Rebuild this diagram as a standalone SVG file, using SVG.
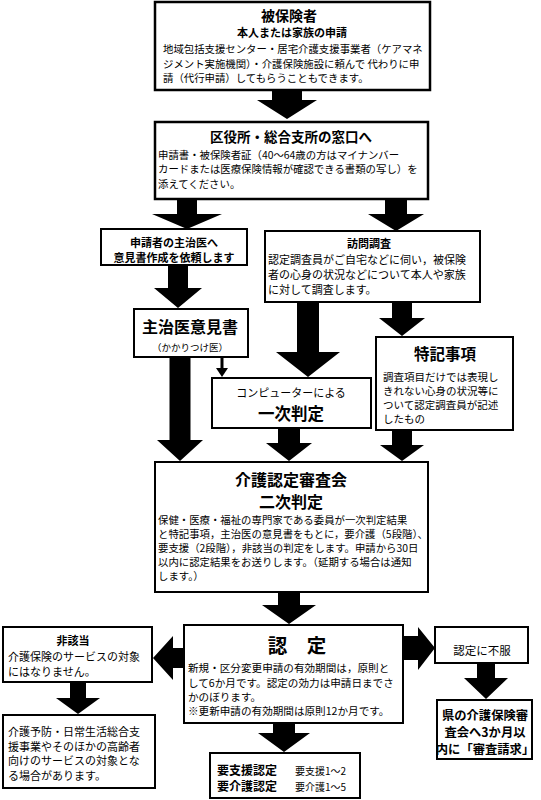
<svg xmlns="http://www.w3.org/2000/svg" width="541" height="800" viewBox="0 0 541 800">
<style>
.box{fill:#fff;stroke:#000;stroke-width:2}
.thick{stroke-width:2.5}
text{font-family:"Noto Sans CJK JP","Noto Sans",sans-serif;fill:#000}
.b{font-weight:bold}
.c{text-anchor:middle}
.body{font-size:10.4px}
.arr{fill:#000;stroke:none}
</style>
<rect width="541" height="800" fill="#fff"/>
<g id="connectors">
<polygon class="arr" points="272,90 302,90 302,100 317,100 287,119 257,100 272,100"/>
<polygon class="arr" points="177,199 197,199 197,214 222,214 187,229 152,214 177,214"/>
<polygon class="arr" points="385,199 407,199 407,214 424,214 396,231 368,214 385,214"/>
<polygon class="arr" points="168,265 188,265 188,288 202,288 178,308 154,288 168,288"/>
<polygon class="arr" points="297,302 319,302 319,352 340,352 308,377 276,352 297,352"/>
<polygon class="arr" points="392,302 412,302 412,318 425,318 402,336 379,318 392,318"/>
<line x1="222" y1="357" x2="222" y2="369" stroke="#000" stroke-width="3"/>
<polygon class="arr" points="216,368 228,368 222,377"/>
<polygon class="arr" points="169.5,357 190.5,357 190.5,440 203,440 180,461 157,440 169.5,440"/>
<polygon class="arr" points="278,428 300,428 300,443 312,443 289,461 266,443 278,443"/>
<polygon class="arr" points="392,430 412,430 412,445 424,445 402,461 380,445 392,445"/>
<polygon class="arr" points="278,592 300,592 300,605 316,605 289,624 262,605 278,605"/>
<polygon class="arr" points="184,648 173,648 173,636 153,658 173,680 173,668 184,668"/>
<polygon class="arr" points="70,682 86,682 86,698 100,698 78,714 56,698 70,698"/>
<polygon class="arr" points="403,636 418,636 418,627 435,648 418,670 418,660 403,660"/>
<polygon class="arr" points="477,663 495,663 495,678 508,678 486,699 464,678 477,678"/>
<polygon class="arr" points="273,723 295,723 295,733 310,733 284,752 258,733 273,733"/>
</g>
<g id="n1">
<rect class="box thick" x="155" y="2" width="275" height="88"/>
<text class="b c" x="289" y="21" font-size="14">被保険者</text>
<text class="b c" x="292" y="37" font-size="11">本人または家族の申請</text>
<text class="body" x="163" y="53">地域包括支援センター・居宅介護支援事業者（ケアマネ</text>
<text class="body" x="163" y="67.5">ジメント実施機関）・介護保険施設に頼んで 代わりに申</text>
<text class="body" x="163" y="82">請（代行申請）してもらうこともできます。</text>
</g>
<g id="n2">
<rect class="box thick" x="155" y="122" width="273" height="77"/>
<text class="b c" x="291" y="141.5" font-size="13.5">区役所・総合支所の窓口へ</text>
<text class="body" x="158" y="158.5">申請書・被保険者証（40～64歳の方はマイナンバー</text>
<text class="body" x="158" y="173">カードまたは医療保険情報が確認できる書類の写し）を</text>
<text class="body" x="158" y="187.5">添えてください。</text>
</g>
<g id="n3">
<rect class="box" x="101" y="229" width="146" height="36"/>
<text class="b c" x="174" y="246.5" font-size="11">申請者の主治医へ</text>
<text class="b c" x="174" y="261.5" font-size="11">意見書作成を依頼します</text>
</g>
<g id="n4">
<rect class="box" x="134" y="309" width="114" height="48"/>
<text class="b c" x="190" y="332.5" font-size="16">主治医意見書</text>
<text class="c" x="190" y="350.5" font-size="9.5">（かかりつけ医）</text>
</g>
<g id="n5">
<rect class="box" x="265" y="231" width="215" height="71"/>
<text class="b c" x="369" y="248" font-size="11">訪問調査</text>
<text x="268" y="264" font-size="11">認定調査員がご自宅などに伺い，被保険</text>
<text x="268" y="279" font-size="11">者の心身の状況などについて本人や家族</text>
<text x="268" y="294" font-size="11">に対して調査します。</text>
</g>
<g id="n6">
<rect class="box" x="376" y="337" width="137" height="93"/>
<text class="b c" x="445" y="360" font-size="15.5">特記事項</text>
<text x="383" y="381" font-size="10.5">調査項目だけでは表現し</text>
<text x="383" y="395" font-size="10.5">きれない心身の状況等に</text>
<text x="383" y="409" font-size="10.5">ついて認定調査員が記述</text>
<text x="383" y="423" font-size="10.5">したもの</text>
</g>
<g id="n7">
<rect class="box" x="212" y="378" width="159" height="50"/>
<text class="c" x="291" y="397" font-size="11">コンピューターによる</text>
<text class="b c" x="291" y="420" font-size="16.5">一次判定</text>
</g>
<g id="n8">
<rect class="box" x="155" y="462" width="273" height="130"/>
<text class="b c" x="291" y="486" font-size="16">介護認定審査会</text>
<text class="b c" x="291" y="508" font-size="16">二次判定</text>
<text class="body" x="158" y="524">保健・医療・福祉の専門家である委員が一次判定結果</text>
<text class="body" x="158" y="538">と特記事項，主治医の意見書をもとに，要介護（5段階）、</text>
<text class="body" x="158" y="552">要支援（2段階），非該当の判定をします。申請から30日</text>
<text class="body" x="158" y="566">以内に認定結果をお送りします。（延期する場合は通知</text>
<text class="body" x="158" y="580">します。）</text>
</g>
<g id="n9">
<rect class="box" x="184" y="625" width="219" height="98"/>
<text class="b c" x="297" y="653" font-size="19.5">認　定</text>
<text x="188" y="672" font-size="10.6">新規・区分変更申請の有効期間は，原則と</text>
<text x="188" y="686.5" font-size="10.6">して6か月です。認定の効力は申請日までさ</text>
<text x="188" y="700.5" font-size="10.6">かのぼります。</text>
<text x="188" y="715" font-size="10.6">※更新申請の有効期間は原則12か月です。</text>
</g>
<g id="n10">
<rect class="box" x="3" y="627" width="149" height="55"/>
<text class="b c" x="73" y="645" font-size="11">非該当</text>
<text x="8" y="661" font-size="11">介護保険のサービスの対象</text>
<text x="8" y="676" font-size="11">にはなりません。</text>
</g>
<g id="n11">
<rect class="box" x="3" y="715" width="152" height="73"/>
<text x="8" y="736" font-size="11">介護予防・日常生活総合支</text>
<text x="8" y="750.5" font-size="11">援事業やそのほかの高齢者</text>
<text x="8" y="765" font-size="11">向けのサービスの対象とな</text>
<text x="8" y="779.5" font-size="11">る場合があります。</text>
</g>
<g id="n12">
<rect class="box" x="435" y="627" width="93" height="36"/>
<text class="c" x="482" y="654.5" font-size="11.5">認定に不服</text>
</g>
<g id="n13">
<rect class="box" x="437" y="700" width="95" height="59"/>
<text class="b c" x="485" y="720" font-size="12.3">県の介護保険審</text>
<text class="b c" x="485" y="737" font-size="12.3">査会へ3か月以</text>
<text class="b c" x="485" y="754" font-size="12.3">内に「審査請求」</text>
</g>
<g id="n14">
<rect class="box" x="210" y="753" width="150" height="45"/>
<text class="b" x="217" y="775" font-size="12">要支援認定</text>
<text x="295" y="775" font-size="10">要支援1～2</text>
<text class="b" x="217" y="791" font-size="12">要介護認定</text>
<text x="295" y="791" font-size="10">要介護1～5</text>
</g>
</svg>
